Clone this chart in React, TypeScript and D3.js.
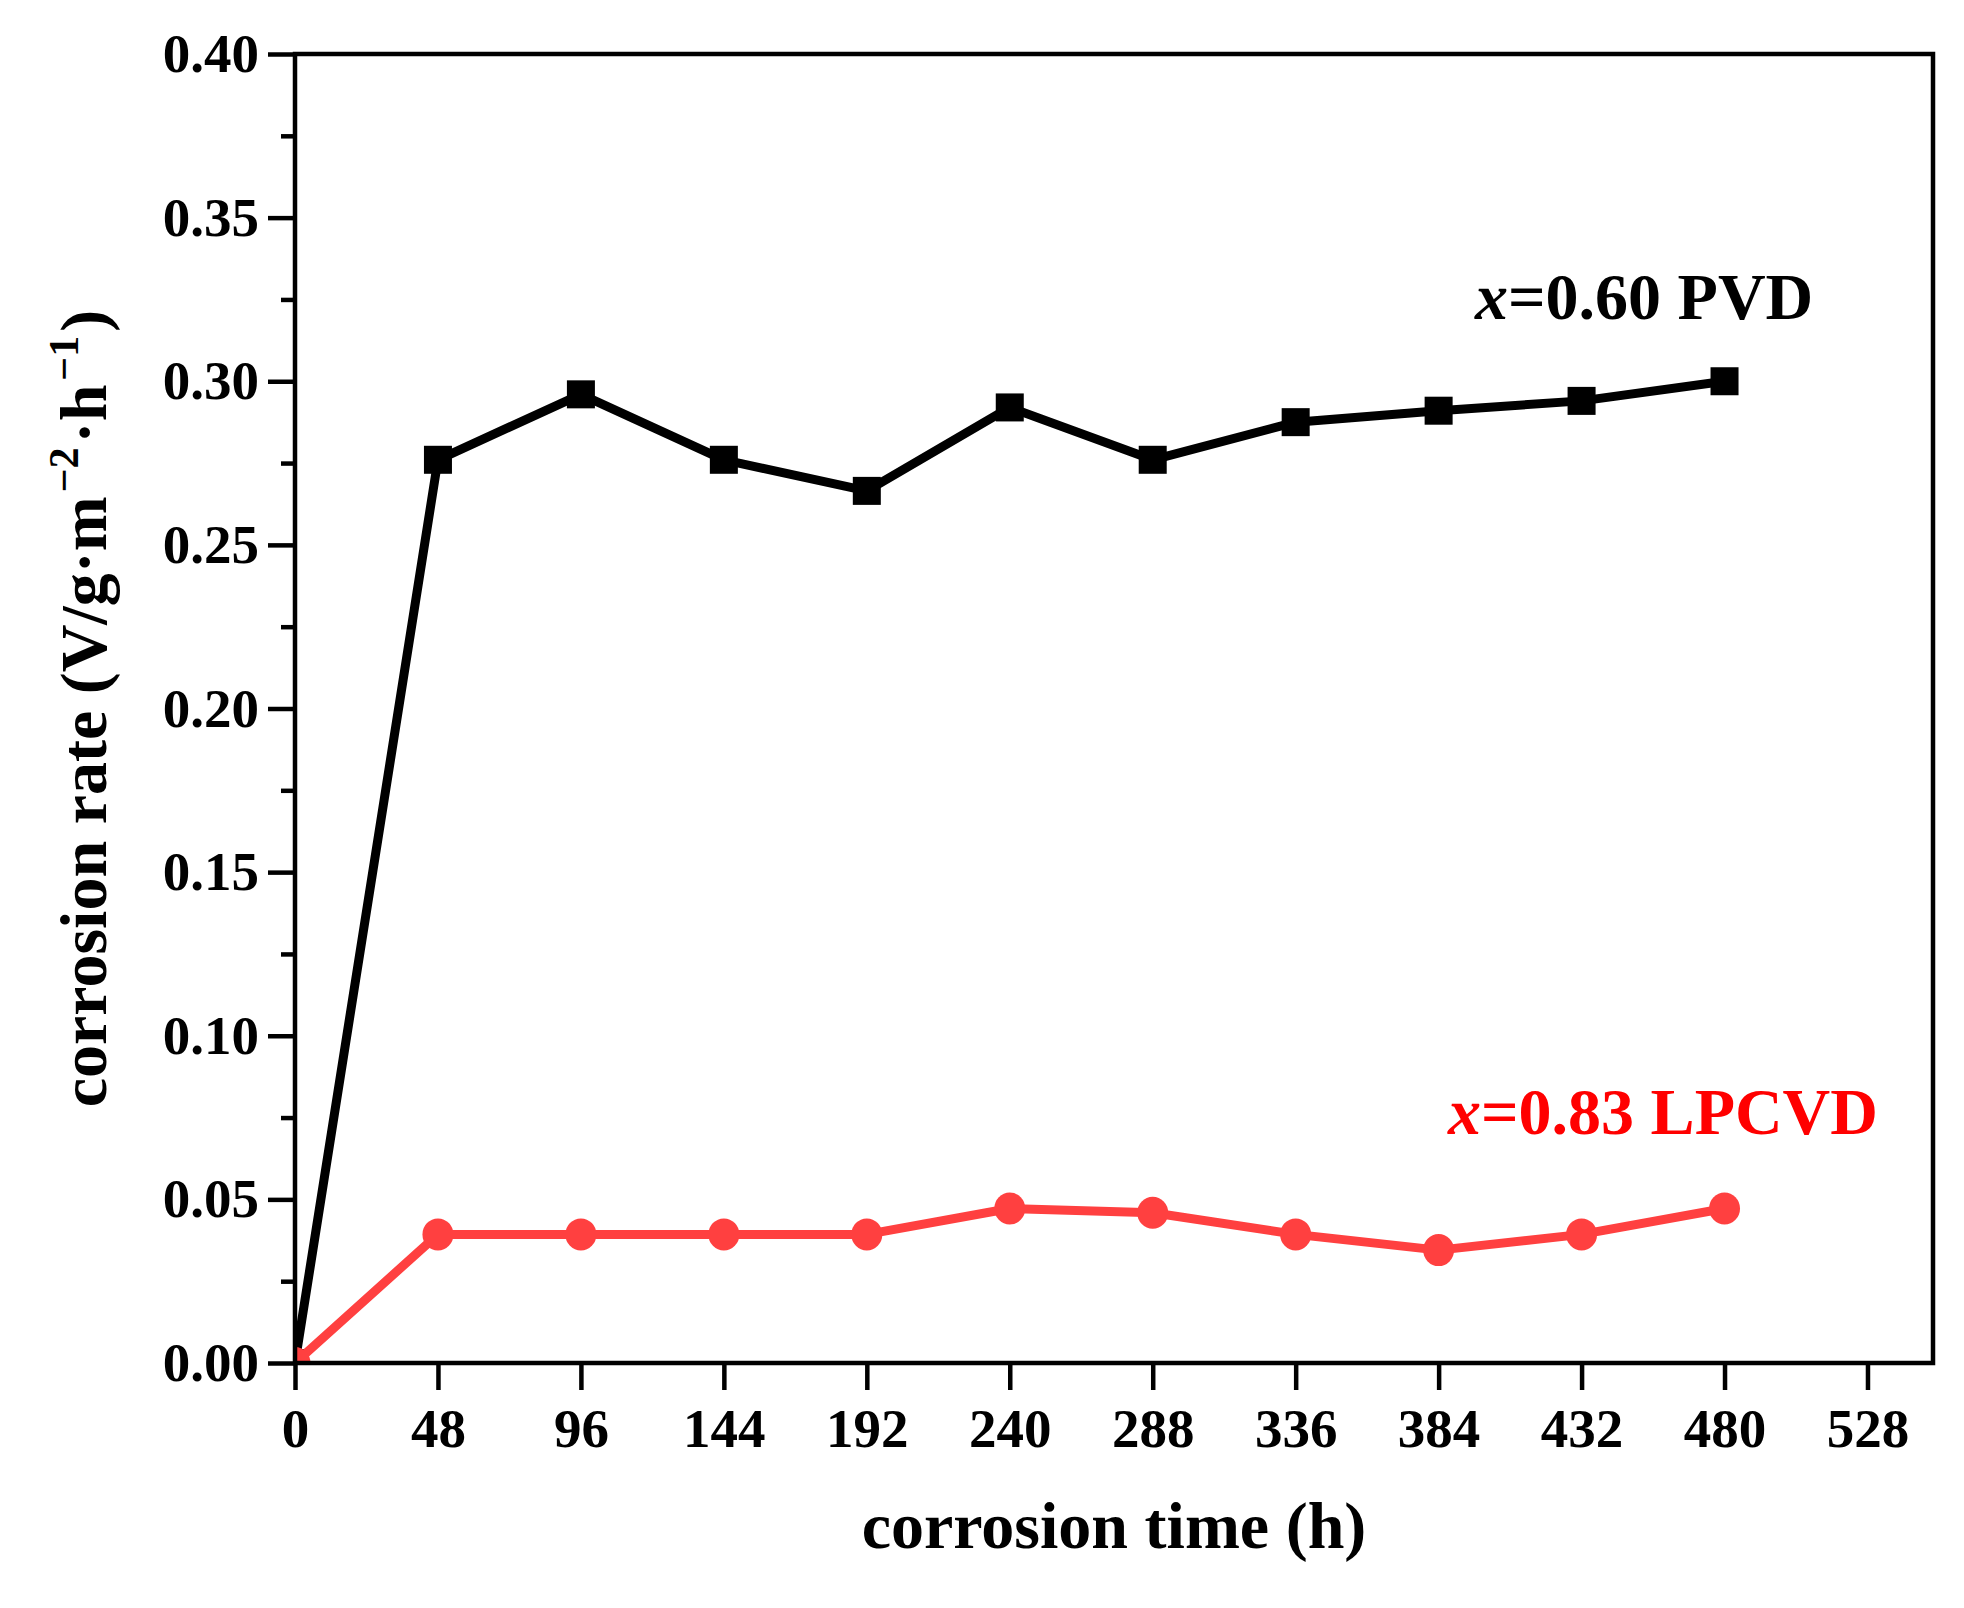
import React, { useEffect, useRef } from "react";
import { axisBottom, axisLeft, format, line, scaleLinear, select } from "d3";

// corrosion time (h)
const times = [0, 48, 96, 144, 192, 240, 288, 336, 384, 432, 480];
// x=0.60 PVD
const pvdRate = [0, 0.276, 0.296, 0.276, 0.2665, 0.292, 0.276, 0.2875, 0.291, 0.294, 0.3];
// x=0.83 LPCVD
const lpcvdRate = [0, 0.0393, 0.0393, 0.0393, 0.0393, 0.0472, 0.0459, 0.0393, 0.0345, 0.0393, 0.0472];

const xTicks = [0, 48, 96, 144, 192, 240, 288, 336, 384, 432, 480, 528];
const yTicks = [0, 0.05, 0.1, 0.15, 0.2, 0.25, 0.3, 0.35, 0.4];
const yMinorTicks = [0.025, 0.075, 0.125, 0.175, 0.225, 0.275, 0.325, 0.375];

const W = 1964;
const H = 1608;
const margin = { top: 54, right: 31, bottom: 245, left: 295 };
const font = "'Liberation Serif', 'Times New Roman', serif";
const red = "#ff4040";

export default function App() {
  const ref = useRef<SVGSVGElement>(null);

  useEffect(() => {
    const svg = select(ref.current);
    svg.selectAll("*").remove();

    const x = scaleLinear().domain([0, 550]).range([margin.left, W - margin.right]);
    const y = scaleLinear().domain([0, 0.4]).range([H - margin.bottom, margin.top]);
    const x0 = x.range()[0];
    const x1 = x.range()[1];
    const y0 = y.range()[0];
    const y1 = y.range()[1];

    svg
      .append("clipPath")
      .attr("id", "plot")
      .append("rect")
      .attr("x", x0)
      .attr("y", y1)
      .attr("width", x1 - x0)
      .attr("height", y0 - y1);

    const plot = svg.append("g").attr("clip-path", "url(#plot)");
    const path = line<number>()
      .x((_, i) => x(times[i]))
      .y((d) => y(d));

    // black squares
    plot
      .append("path")
      .attr("d", path(pvdRate))
      .attr("fill", "none")
      .attr("stroke", "#000")
      .attr("stroke-width", 9)
      .attr("stroke-linejoin", "round");
    plot
      .selectAll("rect.pvd")
      .data(pvdRate)
      .join("rect")
      .attr("class", "pvd")
      .attr("x", (_, i) => x(times[i]) - 14)
      .attr("y", (d) => y(d) - 14)
      .attr("width", 28)
      .attr("height", 28)
      .attr("fill", "#000");

    // red circles
    plot
      .append("path")
      .attr("d", path(lpcvdRate))
      .attr("fill", "none")
      .attr("stroke", red)
      .attr("stroke-width", 9)
      .attr("stroke-linejoin", "round");
    plot
      .selectAll("ellipse.lp")
      .data(lpcvdRate)
      .join("ellipse")
      .attr("class", "lp")
      .attr("cx", (_, i) => x(times[i]))
      .attr("cy", (d) => y(d))
      .attr("rx", 15.5)
      .attr("ry", 16)
      .attr("fill", red);

    // axes
    const gx = svg
      .append("g")
      .attr("transform", `translate(0,${y0})`)
      .call(axisBottom(x).tickValues(xTicks).tickSize(27).tickPadding(18).tickSizeOuter(0));
    const gy = svg
      .append("g")
      .attr("transform", `translate(${x0},0)`)
      .call(
        axisLeft(y).tickValues(yTicks).tickFormat(format(".2f")).tickSize(27).tickPadding(9).tickSizeOuter(0)
      );
    const gm = svg
      .append("g")
      .attr("transform", `translate(${x0},0)`)
      .call(axisLeft(y).tickValues(yMinorTicks).tickFormat(() => "").tickSize(14).tickSizeOuter(0));

    [gx, gy, gm].forEach((g) => {
      g.select(".domain").remove();
      g.selectAll("line").attr("stroke", "#000").attr("stroke-width", 4.5);
      g.selectAll("text")
        .attr("fill", "#000")
        .style("font-family", font)
        .style("font-weight", "bold")
        .style("font-size", "55px");
    });

    svg
      .append("rect")
      .attr("x", x0)
      .attr("y", y1)
      .attr("width", x1 - x0)
      .attr("height", y0 - y1)
      .attr("fill", "none")
      .attr("stroke", "#000")
      .attr("stroke-width", 4.5);

    // axis titles
    svg
      .append("text")
      .attr("x", (x0 + x1) / 2)
      .attr("y", 1548)
      .attr("text-anchor", "middle")
      .style("font-family", font)
      .style("font-weight", "bold")
      .style("font-size", "66px")
      .text("corrosion time (h)");

    const yt = svg
      .append("text")
      .attr("transform", `translate(106,${(y0 + y1) / 2}) rotate(-90)`)
      .attr("text-anchor", "middle")
      .style("font-family", font)
      .style("font-weight", "bold")
      .style("font-size", "66px");
    yt.append("tspan").text("corrosion rate (V/g\u00b7m");
    yt.append("tspan").attr("dx", 4).attr("dy", -28).style("font-size", "42px").text("\u22122");
    yt.append("tspan").attr("dx", 4).attr("dy", 28).text("\u00b7h");
    yt.append("tspan").attr("dx", 4).attr("dy", -28).style("font-size", "42px").text("\u22121");
    yt.append("tspan").attr("dx", 4).attr("dy", 28).text(")");

    // series labels
    const label = (tx: number, ty: number, fill: string, rest: string) => {
      const t = svg
        .append("text")
        .attr("x", tx)
        .attr("y", ty)
        .attr("fill", fill)
        .style("font-family", font)
        .style("font-weight", "bold")
        .style("font-size", "66px");
      t.append("tspan").style("font-style", "italic").text("x");
      t.append("tspan").text(rest);
    };
    label(1475, 319, "#000", "=0.60 PVD");
    label(1448, 1134, "#ff0000", "=0.83 LPCVD");
  }, []);

  return (
    <div style={{ position: "fixed", left: 0, top: 0, background: "#fff" }}>
      <svg ref={ref} width={W} height={H} style={{ display: "block" }} />
    </div>
  );
}
